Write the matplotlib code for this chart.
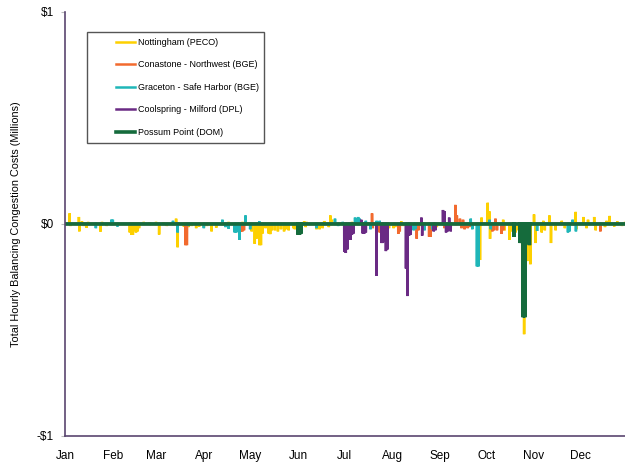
import numpy as np
import matplotlib
matplotlib.use("Agg")
import matplotlib.pyplot as plt
from matplotlib.legend_handler import HandlerLine2D

plt.rcParams['font.family'] = ['Liberation Sans Narrow', 'Liberation Sans', 'DejaVu Sans']

# hourly balancing congestion cost spikes ($ millions), read as (day of year, value)
nott_days = [3, 3.5, 9, 9.3, 11, 12, 14, 15, 23, 24, 27,
             42, 43, 44, 45, 46, 47, 48, 51, 55, 59, 61, 64, 66, 72, 73, 77, 80, 82,
             85, 87, 90, 92, 95, 98, 104, 106, 115, 121, 123, 124, 125, 126, 127, 128,
             130, 132, 133, 134, 136, 138, 140, 142, 143, 145, 148, 149, 155, 156, 156.5,
             163, 164, 165, 167, 168, 171, 172, 173, 178, 186, 196, 209, 210, 213, 214,
             218, 219, 230, 232, 241, 250, 257, 269, 270, 274, 275, 275.5, 278, 284, 285,
             288, 289, 292, 294, 296.4, 297.6, 299.6, 301.7, 304, 305, 309, 310, 311,
             314, 315, 318, 322, 324, 331, 331.5, 336, 338, 339, 343, 344, 350, 351,
             353, 356, 358, 361, 363]
nott_vals = [0.05, -0.01, 0.033, -0.035, 0.012, -0.01, -0.018, 0.01, -0.036, 0.01, -0.01,
             -0.04, -0.05, -0.052, -0.03, -0.04, -0.035, -0.02, 0.01, 0.008, 0.01, -0.05, 0.008, -0.01, 0.025, -0.11, -0.012, -0.015, -0.01,
             -0.02, -0.012, -0.015, -0.01, -0.035, -0.018, -0.01, 0.01, 0.01, -0.035, -0.094, -0.07, -0.065, -0.1, -0.1, -0.045,
             -0.02, -0.045, -0.048, -0.03, -0.03, -0.035, -0.025, -0.035, -0.025, -0.03, -0.02, -0.025, 0.012, -0.015, 0.01,
             -0.025, -0.02, -0.025, -0.02, 0.014, -0.015, 0.04, 0.02, 0.008, 0.01, 0.008, -0.025, -0.02, -0.02, -0.015,
             0.012, -0.01, -0.01, 0.008, -0.015, -0.012, 0.01, -0.17, 0.03, 0.1, 0.06, -0.07, -0.025, 0.02, -0.03,
             -0.075, -0.035, -0.04, -0.03, -0.32, -0.52, -0.175, -0.19, 0.045, -0.09, -0.04, 0.015, -0.03,
             0.04, -0.09, -0.03, 0.015, -0.02, 0.057, -0.025, 0.033, -0.02, 0.02, 0.033, -0.03, -0.015, 0.015,
             0.038, -0.012, 0.012, -0.01, 0.01]

cona_days = [78, 79, 114, 115, 116, 199, 199.5, 204, 206, 216, 217, 228, 229, 236, 237,
             246, 249, 250, 253, 254, 256, 257, 258, 259, 261, 262, 277, 278, 279, 280,
             283, 284, 347]
cona_vals = [-0.1, -0.1, -0.035, -0.035, -0.03, 0.05, -0.02, -0.04, -0.02, -0.047, -0.035, -0.07, -0.03, -0.06, -0.06,
             -0.02, -0.025, -0.02, 0.09, 0.04, 0.025, -0.02, 0.02, -0.025, -0.02, -0.015, -0.035, -0.03, 0.025, -0.03,
             -0.047, -0.03, -0.035]

grac_days = [20, 30, 31, 34, 70, 73, 80, 90, 102, 104, 106, 110, 111, 112, 113, 117, 120,
             126, 163, 175, 177, 180, 188, 189, 190, 191, 195, 198, 202, 204, 226, 227,
             233, 238, 263, 264, 267, 268, 275.2, 276, 306, 326, 327, 329, 331.2]
grac_vals = [-0.02, 0.02, 0.02, -0.012, 0.015, -0.04, -0.01, -0.02, 0.02, -0.015, -0.022, -0.04, -0.04, -0.035, -0.075, 0.04, -0.025,
             0.012, -0.02, 0.025, -0.01, 0.01, 0.03, 0.025, 0.033, 0.025, 0.015, -0.025, 0.015, 0.015, -0.03, -0.025,
             -0.03, -0.025, 0.025, -0.025, -0.2, -0.2, 0.02, -0.025, -0.033, -0.04, -0.035, 0.02, -0.035]

cool_days = [181, 182, 183, 184, 185, 186, 187, 192, 193, 194, 195, 202, 205, 206, 207,
             208, 209, 221, 222, 223, 224, 231, 231.5, 239, 240, 245, 246, 247, 248, 249, 250]
cool_vals = [-0.13, -0.137, -0.12, -0.075, -0.075, -0.05, -0.045, 0.02, -0.045, -0.045, -0.04, -0.245, -0.09, -0.09, -0.085,
             -0.128, -0.12, -0.21, -0.34, -0.055, -0.05, 0.03, -0.055, -0.035, -0.03, 0.066, 0.06, -0.04, -0.035, 0.03, -0.035]

poss_days = [151, 152, 153, 291, 295, 296, 297, 298, 299, 300, 301]
poss_vals = [-0.05, -0.05, -0.045, -0.06, -0.09, -0.09, -0.44, -0.44, -0.09, -0.09, -0.1]

series = [
    ("Nottingham (PECO)", nott_days, nott_vals, "#fdd000"),
    ("Conastone - Northwest (BGE)", cona_days, cona_vals, "#f26a2e"),
    ("Graceton - Safe Harbor (BGE)", grac_days, grac_vals, "#1fb6b8"),
    ("Coolspring - Milford (DPL)", cool_days, cool_vals, "#6a2a84"),
    ("Possum Point (DOM)", poss_days, poss_vals, "#156b3c"),
]

months = ["Jan", "Feb", "Mar", "Apr", "May", "Jun", "Jul", "Aug", "Sep", "Oct", "Nov", "Dec"]
month_starts = [0, 31, 59, 90, 120, 151, 181, 212, 243, 273, 304, 334]

fig = plt.figure(figsize=(6.25, 4.66), dpi=100)
ax = fig.add_axes([0.104, 0.0644, 0.901, 0.91])

hours = np.arange(8760)
for name, days, vals, col in series:
    y = np.zeros(8760)
    idx = (np.array(days) * 24).astype(int)
    y[idx] = vals
    ax.plot(hours / 24.0, y, color=col, lw=2.6 if name.startswith("Possum") else 1.8,
            label=name, solid_joinstyle='miter')

ax.set_xlim(0, 365)
ax.set_ylim(-1, 1)
ax.set_yticks([-1, 0, 1])
ax.set_yticklabels(["-$1", "$0", "$1"])
ax.set_xticks(month_starts)
ax.set_xticklabels(months)
ax.tick_params(axis='x', length=0, pad=10, labelsize=8.5)
ax.tick_params(axis='y', length=3, color='#bbbbbb', labelsize=8.5, pad=5)

for s in ['top', 'right']:
    ax.spines[s].set_visible(False)
for s in ['left', 'bottom']:
    ax.spines[s].set_color('#5a4670')
    ax.spines[s].set_linewidth(1.2)

ax.set_ylabel("Total Hourly Balancing Congestion Costs (Millions)", fontsize=7.8)
ax.yaxis.set_label_coords(-0.078, 0.5)

leg = ax.legend(loc='upper left', bbox_to_anchor=(0.039, 0.953), fontsize=6.5,
                frameon=True, fancybox=False, edgecolor='#555555', framealpha=1,
                borderpad=0.65, handlelength=4.65, handletextpad=0.3, labelspacing=1.5,
                borderaxespad=0,
                handler_map={plt.Line2D: HandlerLine2D(xpad=2.55)})
leg.get_frame().set_linewidth(1.0)

fig.savefig("out.png", dpi=100)
